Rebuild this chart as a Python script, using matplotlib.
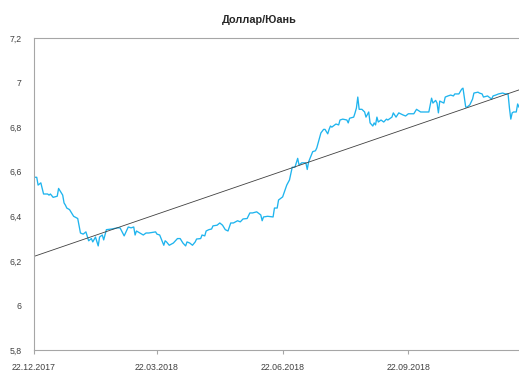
import pandas as pd
import matplotlib.pyplot as plt
import matplotlib.dates as mdates
from matplotlib.ticker import FuncFormatter

# === Data ===
start_date = "2017-12-22"
end_date = "2018-12-12"   # right edge of the plot area

# days after start_date
days = [0, 2, 3, 5, 7, 10, 11, 12, 14, 17, 18, 21, 22, 23, 24, 26, 29, 32, 34, 36,
        38, 40, 42, 43, 45, 47, 48, 50, 51, 53, 57, 61, 63, 66, 69, 71, 73, 74, 75, 80,
        82, 84, 89, 90, 92, 95, 96, 97, 99, 102, 105, 107, 109, 111, 112, 114, 116, 118, 119, 122,
        123, 125, 126, 128, 130, 131, 134, 136, 138, 140, 142, 144, 146, 149, 151, 153, 156, 158, 160, 163,
        166, 167, 168, 171, 175, 176, 178, 179, 182, 183, 185, 187, 189, 191, 193, 194, 196, 199, 200, 201,
        204, 206, 207, 210, 212, 213, 215, 216, 217, 218, 221, 223, 224, 226, 229, 230, 231, 234, 235, 236,
        237, 238, 240, 242, 243, 245, 246, 248, 249, 250, 251, 252, 254, 256, 258, 259, 262, 263, 265, 267,
        270, 272, 274, 278, 280, 283, 286, 289, 291, 292, 294, 295, 296, 297, 300, 301, 303, 305, 307, 308,
        311, 313, 314, 316, 317, 319, 321, 322, 325, 326, 328, 329, 332, 333, 335, 336, 338, 340, 343, 345,
        347, 348, 349, 350, 351, 353, 354, 355]
usd_cny = [6.575, 6.575, 6.54, 6.55, 6.50, 6.50, 6.495, 6.50, 6.485, 6.49, 6.525, 6.495, 6.46, 6.45, 6.437, 6.43, 6.40, 6.39, 6.325, 6.32,
           6.33, 6.29, 6.30, 6.285, 6.307, 6.267, 6.307, 6.316, 6.294, 6.34, 6.343, 6.348, 6.348, 6.312, 6.352, 6.348, 6.352, 6.316, 6.334, 6.316,
           6.325, 6.325, 6.33, 6.32, 6.316, 6.27, 6.29, 6.285, 6.27, 6.28, 6.30, 6.30, 6.28, 6.267, 6.285, 6.28, 6.27, 6.285, 6.298, 6.30,
           6.316, 6.312, 6.334, 6.34, 6.343, 6.357, 6.36, 6.37, 6.36, 6.34, 6.334, 6.37, 6.37, 6.38, 6.375, 6.388, 6.39, 6.415, 6.415, 6.42,
           6.406, 6.38, 6.397, 6.40, 6.397, 6.437, 6.437, 6.473, 6.487, 6.505, 6.54, 6.563, 6.62, 6.62, 6.66, 6.63, 6.64, 6.64, 6.61, 6.644,
           6.69, 6.694, 6.707, 6.774, 6.79, 6.79, 6.77, 6.79, 6.805, 6.80, 6.814, 6.81, 6.832, 6.836, 6.832, 6.819, 6.84, 6.845, 6.864, 6.886,
           6.935, 6.88, 6.88, 6.868, 6.845, 6.868, 6.819, 6.805, 6.819, 6.81, 6.845, 6.823, 6.832, 6.823, 6.836, 6.832, 6.845, 6.864, 6.845, 6.864,
           6.855, 6.85, 6.86, 6.86, 6.88, 6.868, 6.868, 6.868, 6.93, 6.908, 6.92, 6.908, 6.864, 6.917, 6.908, 6.935, 6.94, 6.944, 6.94, 6.949,
           6.949, 6.97, 6.975, 6.89, 6.89, 6.90, 6.926, 6.953, 6.957, 6.953, 6.949, 6.935, 6.94, 6.935, 6.926, 6.94, 6.944, 6.949, 6.953, 6.949,
           6.949, 6.886, 6.836, 6.864, 6.868, 6.868, 6.904, 6.89]

# linear trend line, endpoints
trend_values = [6.22, 6.967]

tick_dates = ["2017-12-22", "2018-03-22", "2018-06-22", "2018-09-22"]
y_ticks = [5.8, 6.0, 6.2, 6.4, 6.6, 6.8, 7.0, 7.2]

dates = pd.Timestamp(start_date) + pd.to_timedelta(days, unit="D")
trend_dates = pd.to_datetime([start_date, end_date])

plt.rcParams["font.family"] = ["Liberation Sans", "DejaVu Sans"]

fig = plt.figure(figsize=(5.19, 3.74), dpi=100)
ax = fig.add_axes([34 / 519, 1 - 350 / 374, 1 - 34 / 519, (350 - 38) / 374])

ax.plot(dates, usd_cny, color="#1fb4ee", lw=0.95)
ax.plot(trend_dates, trend_values, color="#404040", lw=0.6)

ax.set_xlim(trend_dates[0], trend_dates[1])
ax.set_ylim(5.8, 7.2)
ax.set_yticks(y_ticks)
ax.yaxis.set_major_formatter(FuncFormatter(lambda v, p: f"{v:g}".replace(".", ",")))
ax.set_xticks(pd.to_datetime(tick_dates))
ax.xaxis.set_major_formatter(mdates.DateFormatter("%d.%m.%Y"))

for side in ["left", "bottom", "top"]:
    ax.spines[side].set_color("#a6a6a6")
    ax.spines[side].set_linewidth(0.8)
ax.spines["right"].set_visible(False)

ax.tick_params(axis="y", length=0, pad=9, labelsize=6.3, labelcolor="#404040")
ax.tick_params(axis="x", length=3, width=0.8, color="#a6a6a6", pad=6,
               labelsize=6.3, labelcolor="#404040")

fig.text(0.5, 1 - 20 / 374, "Доллар/Юань", ha="center", va="center",
         fontsize=7.8, fontweight="bold", color="#262626")

plt.savefig("out.png", dpi=100)
